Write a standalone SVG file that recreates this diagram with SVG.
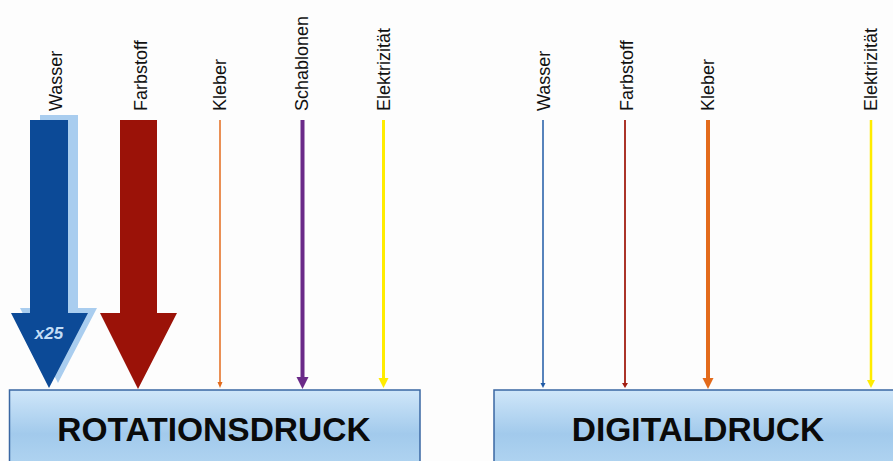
<svg xmlns="http://www.w3.org/2000/svg" width="893" height="461" viewBox="0 0 893 461">
  <defs>
    <linearGradient id="boxFill" x1="0" y1="0" x2="0" y2="1">
      <stop offset="0" stop-color="#cfe6f9"/>
      <stop offset="0.55" stop-color="#a2caec"/>
      <stop offset="1" stop-color="#b2d5f1"/>
    </linearGradient>
  </defs>
  <style>
    .label { font-family: "Liberation Sans", Arial, sans-serif; font-size: 18px; fill: #111; text-anchor: start; }
    .title { font-family: "Liberation Sans", Arial, sans-serif; font-size: 33.5px; font-weight: bold; fill: #0a0a0a; text-anchor: middle; }
    .box { fill: url(#boxFill); stroke: #3a67a3; stroke-width: 1.5; }
  </style>

  <rect width="893" height="461" fill="#fdfdfd"/>

  <!-- labels above the inputs -->
  <g id="labels">
    <text class="label" transform="translate(62,111) rotate(-90)">Wasser</text>
    <text class="label" transform="translate(147,111) rotate(-90)">Farbstoff</text>
    <text class="label" transform="translate(226,111) rotate(-90)">Kleber</text>
    <text class="label" transform="translate(308,111) rotate(-90)">Schablonen</text>
    <text class="label" transform="translate(390,111) rotate(-90)">Elektrizität</text>
    <text class="label" transform="translate(550,111) rotate(-90)">Wasser</text>
    <text class="label" transform="translate(633,111) rotate(-90)">Farbstoff</text>
    <text class="label" transform="translate(714,111) rotate(-90)">Kleber</text>
    <text class="label" transform="translate(877,111) rotate(-90)">Elektrizität</text>
  </g>

  <!-- input flows -->
  <g id="connectors">
    <!-- Rotationsdruck: water (x25) -->
    <polygon points="40,115 78,115 78,308 97,308 58,383 20,308 40,308" fill="#a9cdef"/>
    <polygon points="30,120 68,120 68,313 88,313 49,388 11,313 30,313" fill="#0c4a97"/>
    <text x="49" y="339" font-family="Liberation Sans, Arial, sans-serif" font-size="17" font-weight="bold" font-style="italic" fill="#c3ddf6" text-anchor="middle">x25</text>
    <!-- Rotationsdruck: dye -->
    <polygon points="120,120 157,120 157,313 177,313 138,389 100,313 120,313" fill="#9b1208"/>
    <!-- Rotationsdruck: glue -->
    <line x1="220" y1="120" x2="220" y2="383" stroke="#e36b1c" stroke-width="1.5"/>
    <polygon points="217.5,382 222.5,382 220,388" fill="#e36b1c"/>
    <!-- Rotationsdruck: stencils -->
    <line x1="302.5" y1="120" x2="302.5" y2="378" stroke="#6a2a88" stroke-width="4"/>
    <polygon points="296.5,377 308.5,377 302.5,389" fill="#6a2a88"/>
    <!-- Rotationsdruck: electricity -->
    <line x1="383.5" y1="120" x2="383.5" y2="379" stroke="#ffec00" stroke-width="3"/>
    <polygon points="378.5,378 388.5,378 383.5,388" fill="#ffec00"/>

    <!-- Digitaldruck: water -->
    <line x1="543" y1="120" x2="543" y2="384" stroke="#1f5aa6" stroke-width="1.5"/>
    <polygon points="540.5,383 545.5,383 543,388" fill="#1f5aa6"/>
    <!-- Digitaldruck: dye -->
    <line x1="625" y1="120" x2="625" y2="384" stroke="#a21e12" stroke-width="1.8"/>
    <polygon points="622,383 628,383 625,388" fill="#a21e12"/>
    <!-- Digitaldruck: glue -->
    <line x1="708" y1="120" x2="708" y2="379" stroke="#e36b1c" stroke-width="4"/>
    <polygon points="702.5,378 713.5,378 708,389" fill="#e36b1c"/>
    <!-- Digitaldruck: electricity -->
    <line x1="871" y1="120" x2="871" y2="381" stroke="#ffec00" stroke-width="2.5"/>
    <polygon points="867,380 875,380 871,388" fill="#ffec00"/>
  </g>

  <g id="rotationsdruck">
    <rect class="box" x="9.5" y="390" width="410.5" height="80"/>
    <text class="title" x="214" y="441">ROTATIONSDRUCK</text>
  </g>

  <g id="digitaldruck">
    <rect class="box" x="494" y="390" width="410" height="80"/>
    <text class="title" x="698" y="441">DIGITALDRUCK</text>
  </g>
</svg>
